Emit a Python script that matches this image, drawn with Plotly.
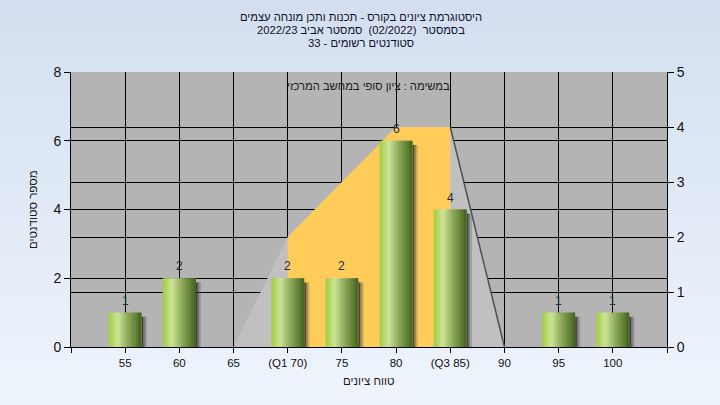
import plotly.graph_objects as go

# ---------------- data ----------------
categories = ['55', '60', '65', '(Q1 70)', '75', '80', '(Q3 85)', '90', '95', '100']
counts = [1, 2, 0, 2, 2, 6, 4, 0, 1, 1]

# distribution outline (right-axis units)
outline_cats = ['65', '(Q1 70)', '80', '(Q3 85)', '90']
outline_vals = [0, 2, 4, 4, 0]
# inter-quartile part of the outline
iqr_cats = ['(Q1 70)', '80', '(Q3 85)']
iqr_vals = [2, 4, 4]

left_ticks = [0, 2, 4, 6, 8]
right_ticks = [0, 1, 2, 3, 4, 5]

title_lines = [
    'היסטוגרמת ציונים בקורס - תכנות ותכן מונחה עצמים',
    'בסמסטר  (02/2022)  סמסטר אביב 2022/23',
    'סטודנטים רשומים - 33',
]
subtitle = 'במשימה : ציון סופי במחשב המרכזי'
x_title = 'טווח ציונים'
y_title = 'מספר סטודנטים'

# ---------------- layout constants ----------------
W, H = 720, 405
ML, MR, MT, MB = 71, 53, 72, 58
PW, PH = W - ML - MR, H - MT - MB
FONT = 'Liberation Sans, DejaVu Sans, sans-serif'
RLE, PDF = '\u202b', '\u202c'


def rtl(s):
    return RLE + s + PDF


def px2x(px):
    return (px - ML) / PW


def py2y(py):
    return (H - MB - py) / PH


idx = {c: i for i, c in enumerate(categories)}
xs = list(range(len(categories)))

fig = go.Figure()

# ---------------- distribution polygons (main y = right axis) ----------------
ox = [idx[c] for c in outline_cats]
fig.add_trace(go.Scatter(x=ox, y=outline_vals, fill='toself', mode='lines',
                         fillcolor='#c0c0c0', line=dict(width=0),
                         hoverinfo='skip', showlegend=False, yaxis='y'))
ix = [idx[c] for c in iqr_cats]
fig.add_trace(go.Scatter(x=[ix[0]] + ix + [ix[-1]], y=[0] + iqr_vals + [0],
                         fill='toself', mode='lines', fillcolor='#ffcc5a',
                         line=dict(width=0), hoverinfo='skip', showlegend=False,
                         yaxis='y'))
# dark edge on the falling side
fig.add_trace(go.Scatter(x=ox[-2:], y=outline_vals[-2:], mode='lines',
                         line=dict(color='#505050', width=1.5),
                         hoverinfo='skip', showlegend=False, yaxis='y'))

# ---------------- bars (y2 = left axis) ----------------
BAR_W = 0.61
# shadow
shadow_cols = ['rgba(45,45,45,0.85)', 'rgba(70,70,70,0.55)', 'rgba(95,95,95,0.3)']
SW = 0.032
shadow_y = [c - 0.12 if c > 0 else None for c in counts]
for k, col in enumerate(shadow_cols):
    fig.add_trace(go.Bar(x=xs, y=shadow_y, width=SW, offset=BAR_W / 2 + k * SW,
                         marker=dict(color=col, line=dict(width=0)),
                         hoverinfo='skip', showlegend=False, yaxis='y2'))

stops = [(0.0, (160, 204, 66)), (0.12, (180, 216, 100)), (0.28, (206, 228, 154)),
         (0.42, (176, 200, 122)), (0.6, (138, 166, 86)), (0.8, (102, 134, 58)),
         (1.0, (70, 98, 32))]


def grad(t):
    for (t0, c0), (t1, c1) in zip(stops[:-1], stops[1:]):
        if t0 <= t <= t1:
            f = (t - t0) / (t1 - t0)
            return 'rgb(%d,%d,%d)' % tuple(round(a + (b - a) * f) for a, b in zip(c0, c1))
    return 'rgb(%d,%d,%d)' % stops[-1][1]


N = 18
step = BAR_W / N
bar_y = [c if c > 0 else None for c in counts]
for i in range(N):
    w = step if i == N - 1 else step * 1.6
    fig.add_trace(go.Bar(x=xs, y=bar_y, width=w, offset=-BAR_W / 2 + i * step,
                         marker=dict(color=grad((i + 0.5) / N), line=dict(width=0)),
                         hoverinfo='skip', showlegend=False, yaxis='y2'))

annotations = []
for i, c in enumerate(counts):
    if c > 0:
        annotations.append(dict(x=i, y=c, xref='x', yref='y2', text=str(c),
                                showarrow=False, yanchor='bottom', yshift=3,
                                font=dict(family=FONT, size=12, color='#1a2a40')))

# titles
for line, py in zip(title_lines, [17, 30, 43]):
    annotations.append(dict(x=px2x(361), y=py2y(py), xref='paper', yref='paper',
                            text=rtl(line), showarrow=False, xanchor='center',
                            yanchor='middle',
                            font=dict(family=FONT, size=11.2, color='#10102a')))
annotations.append(dict(x=px2x(368), y=py2y(86), xref='paper', yref='paper',
                        text=rtl(subtitle), showarrow=False, xanchor='center',
                        yanchor='middle',
                        font=dict(family=FONT, size=11.2, color='#1a1a1a')))
annotations.append(dict(x=px2x(369), y=py2y(381), xref='paper', yref='paper',
                        text=rtl(x_title), showarrow=False, xanchor='center',
                        yanchor='middle',
                        font=dict(family=FONT, size=11.5, color='#1a1a1a')))
annotations.append(dict(x=px2x(33), y=py2y(210), xref='paper', yref='paper',
                        text=rtl(y_title), showarrow=False, xanchor='center',
                        yanchor='middle', textangle=-90,
                        font=dict(family=FONT, size=11.5, color='#1a1a1a')))

# ---------------- background gradient ----------------
shapes = []
NS = 30
top_c, bot_c = (211, 223, 240), (238, 244, 252)
for k in range(NS):
    f = k / (NS - 1)
    col = 'rgb(%d,%d,%d)' % tuple(round(a + (b - a) * f) for a, b in zip(top_c, bot_c))
    y0 = py2y(k * H / NS - 1)
    y1 = py2y((k + 1) * H / NS + 1)
    shapes.append(dict(type='rect', xref='paper', yref='paper', x0=px2x(-2),
                       x1=px2x(W + 2), y0=y0, y1=y1, fillcolor=col,
                       line=dict(width=0), layer='below'))
shapes.append(dict(type='rect', xref='paper', yref='paper', x0=0, x1=1, y0=0, y1=1,
                   fillcolor='#b4b4b4', line=dict(width=0), layer='below'))

tick_font = dict(family=FONT, size=14, color='#111111')
fig.update_layout(
    width=W, height=H,
    margin=dict(l=ML, r=MR, t=MT, b=MB, pad=0),
    paper_bgcolor='#e2eaf6', plot_bgcolor='rgba(0,0,0,0)',
    barmode='overlay', showlegend=False, hovermode=False,
    shapes=shapes, annotations=annotations,
    xaxis=dict(range=[-1, len(categories)], tickmode='array',
               tickvals=[-1] + xs + [len(categories)],
               ticktext=[''] + categories + [''],
               showgrid=True, gridcolor='#000000', gridwidth=1,
               showline=True, linecolor='#000000', linewidth=1,
               ticks='outside', ticklen=5, tickcolor='#000000',
               tickfont=dict(family=FONT, size=11.5, color='#111111'),
               zeroline=False, fixedrange=True),
    yaxis=dict(range=[0, 5], side='right', tickvals=right_ticks,
               showgrid=True, gridcolor='#000000', gridwidth=1,
               showline=True, linecolor='#000000', linewidth=1,
               ticks='outside', ticklen=6, tickcolor='#000000',
               tickfont=tick_font, zeroline=False, fixedrange=True),
    yaxis2=dict(range=[0, 8], side='left', overlaying='y', tickvals=left_ticks,
                showgrid=True, gridcolor='#000000', gridwidth=1,
                showline=True, linecolor='#000000', linewidth=1,
                ticks='outside', ticklen=6, tickcolor='#000000',
                tickfont=tick_font, zeroline=False, fixedrange=True),
)

fig.write_html('out.html', config={'displayModeBar': False},
               post_script="document.body.style.margin='0';")
